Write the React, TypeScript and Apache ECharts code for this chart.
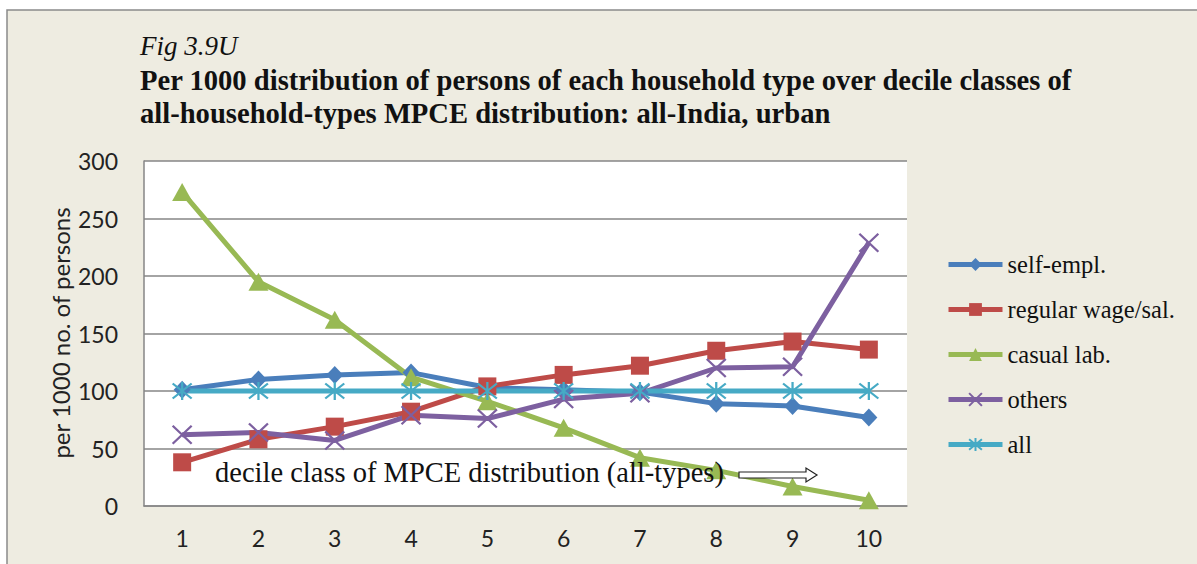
import React, { useEffect, useRef } from "react";
import * as echarts from "echarts";

const categories = ["1", "2", "3", "4", "5", "6", "7", "8", "9", "10"];
const selfEmpl = [101, 110, 114, 116, 103, 101, 99, 89, 87, 77];
const regularWage = [38, 58, 69, 82, 104, 114, 122, 135, 143, 136];
const casualLab = [273, 195, 162, 112, 91, 68, 42, 31, 17, 5];
const others = [62, 64, 57, 79, 76, 93, 98, 120, 121, 229];
const allTypes = [100, 100, 100, 100, 100, 100, 100, 100, 100, 100];
const yTicks = { min: 0, max: 300, interval: 50 };

const serif = "'Liberation Serif', 'Times New Roman', serif";
const sans = "Lato, 'Open Sans', sans-serif";

const X_PATH = "path://M0,0 L10,10 M10,0 L0,10";
const STAR_PATH = "path://M0,0 L10,10 M10,0 L0,10 M5,-1 L5,11";

export default function App() {
  const ref = useRef<HTMLDivElement>(null);
  useEffect(() => {
    if (!ref.current) return;
    const chart = echarts.init(ref.current, undefined, { renderer: "svg" });
    const lineSeries = (name: string, data: number[], color: string, symbol: string, size: any, stroke = false) => ({
      name,
      type: "line",
      data,
      symbol,
      symbolSize: size,
      lineStyle: { color, width: 5 },
      itemStyle: stroke
        ? { color: "rgba(0,0,0,0)", borderColor: color, borderWidth: 2.2 }
        : { color },
      emphasis: { disabled: true },
    });
    chart.setOption({
      animation: false,
      backgroundColor: "#ffffff",
      grid: {
        left: 144,
        top: 161,
        right: 290,
        bottom: 58,
        show: true,
        backgroundColor: "#ffffff",
        borderWidth: 0,
      },
      xAxis: {
        type: "category",
        data: categories,
        boundaryGap: true,
        axisLine: { lineStyle: { color: "#868686", width: 1.5 } },
        axisTick: { show: false },
        axisLabel: { color: "#222", fontSize: 23, fontFamily: sans, margin: 20 },
      },
      yAxis: {
        type: "value",
        min: yTicks.min,
        max: yTicks.max,
        interval: yTicks.interval,
        axisLine: { show: true, lineStyle: { color: "#868686", width: 1.5 } },
        axisTick: { show: false },
        axisLabel: { color: "#222", fontSize: 23, fontFamily: sans, margin: 26 },
        splitLine: { lineStyle: { color: "#868686", width: 1.5 } },
      },
      legend: {
        orient: "vertical",
        left: 941,
        top: 247,
        itemWidth: 54,
        itemHeight: 16,
        itemGap: 20,
        lineStyle: { width: 5 },
        textStyle: { color: "#111", fontSize: 24.5, lineHeight: 24, fontFamily: serif },
        data: ["self-empl.", "regular wage/sal.", "casual lab.", "others", "all"],
      },
      graphic: [
        {
          type: "rect",
          z: -10,
          shape: { x: 7, y: 10, width: 1200, height: 570 },
          style: { fill: "#EEECE1", stroke: "#8a8a8a", lineWidth: 1.5 },
          silent: true,
        },
        {
          type: "text",
          x: 140,
          y: 46,
          style: { text: "Fig 3.9U", fontFamily: serif, fontStyle: "italic", fontSize: 27, fill: "#111", verticalAlign: "middle" },
        },
        {
          type: "text",
          x: 140,
          y: 80,
          style: {
            text: "Per 1000 distribution of persons of each household type over decile classes of",
            fontFamily: serif,
            fontWeight: "bold",
            fontSize: 28.6,
            fill: "#111",
            verticalAlign: "middle",
          },
        },
        {
          type: "text",
          x: 140,
          y: 113,
          style: {
            text: "all-household-types MPCE distribution: all-India, urban",
            fontFamily: serif,
            fontWeight: "bold",
            fontSize: 28.6,
            fill: "#111",
            verticalAlign: "middle",
          },
        },
        {
          type: "text",
          x: 60,
          y: 333,
          rotation: Math.PI / 2,
          style: {
            text: "per 1000 no. of persons",
            fontFamily: sans,
            fontSize: 24,
            fill: "#222",
            align: "center",
            verticalAlign: "middle",
          },
        },
        {
          type: "text",
          x: 215,
          y: 472,
          z: 10,
          style: {
            text: "decile class of MPCE distribution (all-types)",
            fontFamily: serif,
            fontSize: 28.5,
            fill: "#111",
            verticalAlign: "middle",
          },
        },
        {
          type: "polygon",
          z: 10,
          shape: {
            points: [
              [739, 472],
              [806, 472],
              [806, 468],
              [817, 475],
              [806, 482],
              [806, 478],
              [739, 478],
            ],
          },
          style: { fill: "#ffffff", stroke: "#222", lineWidth: 1.2 },
        },
      ],
      series: [
        lineSeries("self-empl.", selfEmpl, "#4A7EBB", "diamond", [17, 18]),
        lineSeries("regular wage/sal.", regularWage, "#BE4B48", "rect", 18),
        lineSeries("casual lab.", casualLab, "#98B954", "triangle", [20, 18]),
        lineSeries("others", others, "#7D60A0", X_PATH, [19, 18], true),
        lineSeries("all", allTypes, "#46AAC5", STAR_PATH, [19, 18], true),
      ],
    });
    return () => chart.dispose();
  }, []);
  return (
    <div
      ref={ref}
      style={{ position: "absolute", left: 0, top: 0, width: 1197, height: 564 }}
    />
  );
}
